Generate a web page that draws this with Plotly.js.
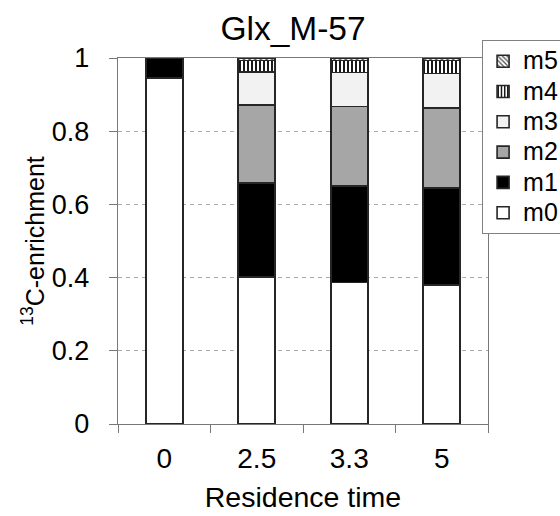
<!DOCTYPE html>
<html><head><meta charset="utf-8">
<script src="https://cdn.plot.ly/plotly-3.0.1.min.js"></script>
<style>html,body{margin:0;padding:0;background:#fff}#chart{width:560px;height:516px}</style>
</head><body><div id="chart"></div>
<script>
const categories = ['0', '2.5', '3.3', '5'];
const m0 = [0.945, 0.401, 0.387, 0.380];
const m1 = [0.055, 0.257, 0.263, 0.265];
const m2 = [0, 0.214, 0.217, 0.219];
const m3 = [0, 0.090, 0.093, 0.094];
const m4 = [0, 0.031, 0.033, 0.035];
const m5 = [0, 0.007, 0.007, 0.007];
const seriesNames = ['m0', 'm1', 'm2', 'm3', 'm4', 'm5'];
const seriesValues = [m0, m1, m2, m3, m4, m5];

const fills = [
  {color: '#ffffff'},
  {color: '#000000'},
  {color: '#a6a6a6'},
  {color: '#f2f2f2'},
  {color: '#ffffff', pattern: {shape: '|', fgcolor: '#000000', bgcolor: '#ffffff', size: 4, solidity: 0.45}},
  {color: '#ffffff', pattern: {shape: '\\', fgcolor: '#555555', bgcolor: '#ffffff', size: 4, solidity: 0.4}}
];

const traces = seriesNames.map((n, i) => {
  const marker = {color: fills[i].color, line: {color: '#262626', width: 1.6}};
  if (fills[i].pattern) marker.pattern = fills[i].pattern;
  return {type: 'bar', name: '<span style="font-size:25px">' + n + '</span>', x: categories, y: seriesValues[i], marker: marker, hoverinfo: 'skip'};
});

const font = 'Liberation Sans, Arial, sans-serif';
const layout = {
  width: 560, height: 516,
  margin: {l: 118, r: 72, t: 58, b: 92, autoexpand: false},
  paper_bgcolor: '#ffffff', plot_bgcolor: '#ffffff',
  barmode: 'stack', bargap: 0.6,
  font: {family: font, color: '#000000', size: 24},
  title: {text: 'Glx_M-57', font: {family: font, size: 33.5, color: '#000'},
    xref: 'paper', x: 0.473, xanchor: 'center', yref: 'container', y: 0.946, yanchor: 'middle'},
  xaxis: {type: 'category', title: {text: 'Residence time', font: {size: 28.5}, standoff: 14},
    tickfont: {size: 28}, ticks: 'outside', ticklen: 8, tickcolor: '#777', tickson: 'boundaries',
    showline: true, linecolor: '#777', linewidth: 1.2, mirror: true, showgrid: false,
    ticklabelstandoff: 9, zeroline: false},
  yaxis: {range: [0, 1], tickvals: [0, 0.2, 0.4, 0.6, 0.8, 1], ticktext: ['0', '0.2', '0.4', '0.6', '0.8', '1'],
    title: {text: '<sup>13</sup>C-enrichment', font: {size: 25}, standoff: 0},
    tickfont: {size: 27}, ticks: 'outside', ticklen: 8, tickcolor: '#777',
    showline: true, linecolor: '#777', linewidth: 1.2, mirror: true,
    showgrid: true, gridcolor: '#aaaaaa', griddash: '4px,4px', gridwidth: 1, zeroline: false,
    ticklabelstandoff: 14},
  legend: {traceorder: 'reversed', x: 0.984, xanchor: 'left', xref: 'paper', y: 1.049, yanchor: 'top',
    bordercolor: '#808080', borderwidth: 1, bgcolor: '#ffffff', font: {size: 21},
    itemwidth: 30, tracegroupgap: 0},
  showlegend: true
};
Plotly.newPlot('chart', traces, layout, {staticPlot: true, displayModeBar: false});
</script></body></html>
